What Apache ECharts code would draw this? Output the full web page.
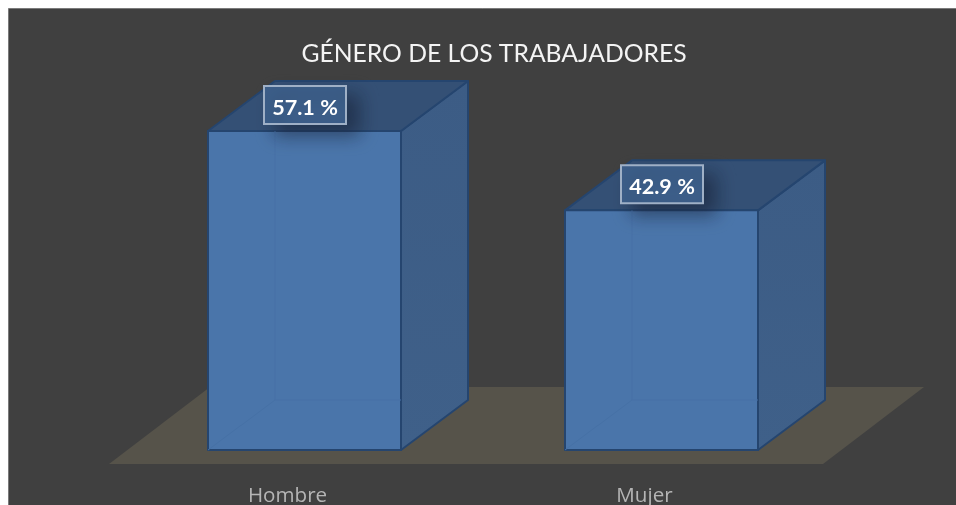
<!DOCTYPE html>
<html><head><meta charset="utf-8">
<style>html,body{margin:0;padding:0;background:#fff}#c{width:956px;height:505px}</style>
<script src="https://cdn.jsdelivr.net/npm/echarts@6/dist/echarts.min.js"></script>
</head><body><div id="c"></div>
<script>
const categories = ['Hombre', 'Mujer'];
const shares = [57.1, 42.9];
const titleText = 'GÉNERO DE LOS TRABAJADORES';

const chart = echarts.init(document.getElementById('c'), null, {renderer: 'canvas'});
const DX = 67, DY = 50, BAR_W = 193, SHIFT = 17;

function floorItem(params, api) {
  const cs = params.coordSys;
  const y = api.coord([0, 0])[1];
  return {
    type: 'polygon', silent: true,
    shape: {points: [[cs.x, y + 14], [cs.x + cs.width, y + 14], [cs.x + cs.width + 101, y - 63], [cs.x + 101, y - 63]]},
    style: {fill: '#56534a'}
  };
}
function barItem(params, api) {
  const top = api.coord([api.value(0), api.value(1)]);
  const base = api.coord([api.value(0), 0]);
  const l = top[0] + SHIFT - BAR_W / 2, r = l + BAR_W, t = top[1], b = base[1];
  const edge = '#25456f';
  const ls = {stroke: edge, lineWidth: 2, lineJoin: 'round'};
  const thin = {stroke: '#4671a6', lineWidth: 1};
  return {
    type: 'group', children: [
      {type: 'polygon', shape: {points: [[r, t], [r + DX, t - DY], [r + DX, b - DY], [r, b]]},
        style: Object.assign({fill: new echarts.graphic.LinearGradient(0, 0, 0, 1, [{offset: 0, color: '#3c5c85'}, {offset: 1, color: '#3f6089'}])}, ls)},
      {type: 'polygon', shape: {points: [[l, t], [r, t], [r + DX, t - DY], [l + DX, t - DY]]},
        style: Object.assign({fill: '#345075'}, ls)},
      {type: 'rect', shape: {x: l, y: t, width: BAR_W, height: b - t},
        style: Object.assign({fill: '#4a75aa'}, ls)},
      {type: 'line', shape: {x1: l + DX, y1: t, x2: l + DX, y2: b - DY}, style: thin},
      {type: 'line', shape: {x1: l + DX, y1: b - DY, x2: r, y2: b - DY}, style: thin},
      {type: 'line', shape: {x1: l, y1: b, x2: l + DX, y2: b - DY}, style: thin},
      {type: 'rect', z2: 5, shape: {x: l + 56, y: t - 45, width: 82, height: 38},
        style: {fill: '#3d5f8a', stroke: '#9fb0c6', lineWidth: 2, shadowBlur: 18, shadowColor: 'rgba(20,30,50,0.55)', shadowOffsetX: 12, shadowOffsetY: 10}},
      {type: 'text', z2: 6, style: {x: l + 97, y: t - 23, text: api.value(1).toFixed(1) + ' %', fill: '#fff',
        font: 'bold 21.6px Lato, sans-serif', align: 'center', verticalAlign: 'middle'}}
    ]
  };
}

chart.setOption({
  animation: false,
  backgroundColor: '#ffffff',
  graphic: [{type: 'rect', z: -10, silent: true, shape: {x: 8.5, y: 8.5, width: 960, height: 505},
    style: {fill: '#404040', stroke: '#7a7a7a', lineWidth: 1}}],
  title: {text: titleText, left: 489, top: 37, textAlign: 'center',
    textStyle: {color: '#f4f4f4', fontSize: 24.7, fontWeight: 'normal', fontFamily: 'Lato, sans-serif'}},
  grid: {left: 109, width: 714, top: 59, height: 391, outerBoundsMode: 'none', containLabel: false},
  xAxis: {type: 'category', data: categories, axisLine: {show: false}, axisTick: {show: false},
    axisLabel: {color: '#b5b5b5', fontSize: 20.6, margin: 36, fontFamily: '"Open Sans", sans-serif'}},
  yAxis: {type: 'value', min: 0, max: 70, show: false, splitLine: {show: false}},
  series: [
    {type: 'custom', z: 1, silent: true, data: [[0, 0]], renderItem: floorItem, clip: false},
    {type: 'custom', z: 2, silent: true, renderItem: barItem, clip: false,
      encode: {x: 0, y: 1}, data: categories.map((c, i) => [i, shares[i]])}
  ]
});
</script></body></html>
